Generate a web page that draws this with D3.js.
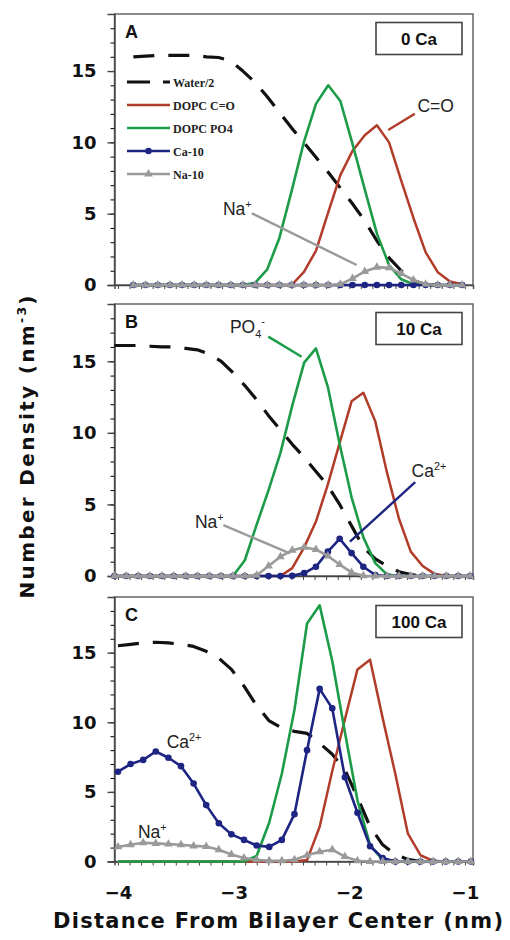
<!DOCTYPE html>
<html>
<head>
<meta charset="utf-8">
<script src="https://cdn.jsdelivr.net/npm/d3@7"></script>
<style>
  html, body { margin: 0; padding: 0; background: #fff; }
  svg { display: block; }
</style>
</head>
<body>
<svg id="chart" width="510" height="940"></svg>
<script>
// Bin centres (nm); the three runs use
// slightly different bin widths, so each panel keeps its own grid.
const xA = [-3.867, -3.762, -3.656, -3.551, -3.446, -3.341, -3.235, -3.130, -3.025, -2.920,
  -2.814, -2.709, -2.604, -2.498, -2.393, -2.288, -2.182, -2.077, -1.972, -1.866,
  -1.761, -1.656, -1.550, -1.445, -1.340, -1.235, -1.129, -1.024];
const waterA = [16.0, 16.05, 16.1, 16.1, 16.1, 16.1, 16.0, 15.95, 15.7, 15.0,
  14.2, 13.2, 12.1, 11.0, 10.0, 8.95, 7.9, 6.8, 5.7, 4.5,
  3.1, 1.9, 1.0, 0.3, 0.05, 0, null, null];
const carbonylA = [0, 0, 0, 0, 0, 0, 0, 0, 0, 0,
  0, 0, 0, 0, 0.9, 2.4, 5.1, 7.7, 9.4, 10.5,
  11.2, 10.0, 7.3, 4.7, 2.3, 0.9, 0.25, 0.05];
const phosphateA = [0, 0, 0, 0, 0, 0, 0, 0, 0, 0,
  0.15, 1.1, 3.3, 6.6, 10.0, 12.7, 14.0, 12.9, 9.9, 6.7,
  3.6, 1.4, 0.4, 0.05, 0, 0, 0, 0];
const calciumA = [0, 0, 0, 0, 0, 0, 0, 0, 0, 0,
  0, 0, 0, 0, 0, 0, 0, 0, 0, 0,
  0, 0, 0, 0, 0, 0, 0, 0];
const sodiumA = [0, 0, 0, 0, 0, 0, 0, 0, 0, 0,
  0, 0, 0, 0, 0, 0, 0, 0.05, 0.45, 0.95,
  1.25, 1.2, 0.8, 0.35, 0.05, 0, 0, 0];

const xB = [-4.030, -3.928, -3.825, -3.723, -3.620, -3.518, -3.415, -3.313, -3.210, -3.108,
  -3.005, -2.903, -2.800, -2.698, -2.595, -2.493, -2.390, -2.288, -2.185, -2.083,
  -1.980, -1.878, -1.775, -1.673, -1.570, -1.468, -1.365, -1.263, -1.160, -1.058, -0.955];
const waterB = [16.1, 16.1, 16.1, 16.05, 16.0, 16.0, 15.9, 15.8, 15.5, 15.0,
  14.2, 13.3, 12.3, 11.2, 10.2, 9.2, 8.3, 7.3, 6.3, 5.0,
  3.5, 2.0, 1.2, 0.7, 0.3, 0.1, 0, null, null, null, null];
const carbonylB = [0, 0, 0, 0, 0, 0, 0, 0, 0, 0,
  0, 0, 0, 0, 0, 0.55, 2.0, 3.8, 6.4, 9.3,
  12.2, 12.8, 10.8, 7.2, 4.0, 1.7, 0.7, 0.15, 0, 0, 0];
const phosphateB = [0, 0, 0, 0, 0, 0, 0, 0, 0, 0,
  0, 1.1, 3.6, 6.0, 8.6, 11.9, 14.9, 15.9, 13.2, 9.2,
  5.5, 2.7, 0.9, 0.1, 0, 0, 0, 0, 0, 0, 0];
const calciumB = [0, 0, 0, 0, 0, 0, 0, 0, 0, 0,
  0, 0, 0, 0, 0, 0.02, 0.2, 0.65, 1.7, 2.6,
  1.6, 0.65, 0.07, 0, 0, 0, 0, 0, 0, 0, 0];
const sodiumB = [0, 0, 0, 0, 0, 0, 0, 0, 0, 0,
  0, 0, 0.05, 0.7, 1.35, 1.8, 2.0, 1.85, 1.4, 0.8,
  0.25, 0.02, 0, 0, 0, 0, 0, 0, 0, 0, 0];

const xC = [-4.000, -3.891, -3.782, -3.673, -3.564, -3.455, -3.346, -3.237, -3.128, -3.019,
  -2.910, -2.801, -2.692, -2.583, -2.474, -2.365, -2.256, -2.147, -2.038, -1.929,
  -1.820, -1.711, -1.602, -1.493, -1.384, -1.275, -1.166, -1.057, -0.948];
const waterC = [15.5, 15.6, 15.7, 15.75, 15.7, 15.6, 15.45, 15.1, 14.6, 13.8,
  12.6, 11.2, 10.1, 9.6, 9.35, 9.2, 8.5, 7.7, 6.6, 4.6,
  2.5, 1.2, 0.5, 0.15, 0, null, null, null, null];
const carbonylC = [0, 0, 0, 0, 0, 0, 0, 0, 0, 0,
  0, 0, 0, 0, 0, 0.1, 2.5, 6.5, 10.2, 13.8,
  14.5, 10.3, 6.3, 2.0, 0.45, 0.05, 0, 0, 0];
const phosphateC = [0, 0, 0, 0, 0, 0, 0, 0, 0, 0,
  0, 0.4, 2.8, 6.3, 10.9, 17.1, 18.4, 14.4, 9.3, 4.4,
  1.2, 0.1, 0, 0, 0, 0, 0, 0, 0];
const calciumC = [6.45, 7.0, 7.3, 7.9, 7.45, 6.85, 5.6, 4.05, 2.75, 1.95,
  1.55, 1.15, 1.05, 1.55, 3.4, 8.0, 12.4, 11.0, 6.05, 3.5,
  1.1, 0.25, 0, 0, 0, 0, 0, 0, 0];
const sodiumC = [1.05, 1.2, 1.35, 1.3, 1.25, 1.2, 1.12, 1.08, 0.85, 0.5,
  0.25, 0.12, 0.05, 0.05, 0.12, 0.45, 0.7, 0.85, 0.35, 0.05,
  0, 0, 0, 0, 0, 0, 0, 0, 0];

const xTicks = [-4, -3, -2, -1];
const yTicks = [0, 5, 10, 15];
const legendLabels = ['Water/2', 'DOPC C=O', 'DOPC PO4', 'Ca-10', 'Na-10'];
const boxLabels = ['0 Ca', '10 Ca', '100 Ca'];
const panelLetters = ['A', 'B', 'C'];

const colors = {
  water: '#111111',
  carbonyl: '#b23c2a',
  phosphate: '#1c9c48',
  calcium: '#1d2482',
  sodium: '#9a9a9a',
};

const svg = d3.select('#chart');
const x = d3.scaleLinear().domain([-4.03, -0.93]).range([114.5, 473]);
const [plotLeft, plotRight] = x.range();

// Callout labels are placed in data units so they move with the scales.
const panels = [
  {
    top: 14, bottom: 285, xs: xA,
    series: [waterA, carbonylA, phosphateA, calciumA, sodiumA],
    notes: [
      { parts: [['C=O']], at: [-1.41, 12.1], color: colors.carbonyl, from: [-1.433, 12.0], to: [-1.663, 10.87] },
      { parts: [['Na'], ['+', 'sup']], at: [-3.092, 4.9], color: colors.sodium, from: [-2.844, 5.03], to: [-1.936, 1.40] },
    ],
  },
  {
    top: 304, bottom: 576, xs: xB,
    series: [waterB, carbonylB, phosphateB, calciumB, sodiumB],
    notes: [
      { parts: [['PO'], ['4', 'sub'], ['-', 'sup']], at: [-3.032, 17.0], color: colors.phosphate, from: [-2.70, 16.72], to: [-2.412, 15.32] },
      { parts: [['Ca'], ['2+', 'sup']], at: [-1.461, 6.9], color: colors.calcium, from: [-1.43, 6.55], to: [-1.994, 2.40] },
      { parts: [['Na'], ['+', 'sup']], at: [-3.334, 3.35], color: colors.sodium, from: [-3.089, 3.56], to: [-2.513, 1.58] },
    ],
  },
  {
    top: 597, bottom: 861.5, xs: xC,
    series: [waterC, carbonylC, phosphateC, calciumC, sodiumC],
    notes: [
      { parts: [['Ca'], ['2+', 'sup']], at: [-3.579, 8.15] },
      { parts: [['Na'], ['+', 'sup']], at: [-3.827, 1.69] },
    ],
  },
];

const seriesStyle = [
  { color: colors.water, width: 3.2, dash: '21,14' },
  { color: colors.carbonyl, width: 2.5 },
  { color: colors.phosphate, width: 2.6 },
  { color: colors.calcium, width: 2.6, marker: 'circle' },
  { color: colors.sodium, width: 2.6, marker: 'triangle' },
];

function richText(sel, parts, size) {
  let shift = 0;
  parts.forEach(([txt, kind]) => {
    const target = kind === 'sup' ? -0.42 * size : kind === 'sub' ? 0.28 * size : 0;
    sel.append('tspan')
      .attr('dy', target - shift)
      .attr('font-size', kind ? size * 0.62 : size)
      .text(txt);
    shift = target;
  });
}

function drawMarker(sel, kind, color) {
  if (kind === 'circle') {
    sel.append('circle').attr('r', 3.3).attr('fill', color);
  } else {
    sel.append('path').attr('d', d3.symbol(d3.symbolTriangle, 32)()).attr('fill', color);
  }
}

panels.forEach((p, i) => {
  const y = d3.scaleLinear().domain([0, 19]).range([p.bottom, p.top]);
  const g = svg.append('g');

  g.append('rect')
    .attr('x', plotLeft).attr('y', p.top)
    .attr('width', plotRight - plotLeft).attr('height', p.bottom - p.top)
    .attr('fill', 'none').attr('stroke', '#5a5a5a').attr('stroke-width', 1.4);

  // y axis: unit minor ticks, labelled majors every 5
  g.append('g').attr('transform', `translate(${plotLeft},0)`)
    .call(d3.axisLeft(y).tickValues(d3.range(0, 19)).tickSize(4).tickFormat(''))
    .call((a) => a.select('.domain').remove());
  const yAxis = g.append('g').attr('transform', `translate(${plotLeft},0)`)
    .call(d3.axisLeft(y).tickValues(yTicks).tickSize(7).tickPadding(11).tickFormat(d3.format('d')));
  yAxis.select('.domain').attr('stroke', '#444').attr('stroke-width', 1.4);
  yAxis.selectAll('line').attr('stroke', '#444').attr('stroke-width', 1.4);
  yAxis.selectAll('text')
    .attr('font-family', '"DejaVu Sans", Verdana, sans-serif')
    .attr('font-weight', 'bold').attr('font-size', 18).attr('fill', '#111');

  // x axis: 0.1 nm ticks, labels on the bottom panel only
  const xAxis = g.append('g').attr('transform', `translate(0,${p.bottom})`)
    .call(d3.axisBottom(x).tickValues(d3.range(31).map((k) => -4 + k / 10)).tickSize(4).tickFormat(''));
  xAxis.select('.domain').attr('stroke', '#444').attr('stroke-width', 1.4);
  xAxis.selectAll('line').attr('stroke', '#444');
  if (i === panels.length - 1) {
    const lab = g.append('g').attr('transform', `translate(0,${p.bottom})`)
      .call(d3.axisBottom(x).tickValues(xTicks).tickSize(0).tickPadding(25).tickFormat(d3.format('d')));
    lab.select('.domain').remove();
    lab.selectAll('text')
      .attr('font-family', '"DejaVu Sans", Verdana, sans-serif')
      .attr('font-weight', 'bold').attr('font-size', 18).attr('fill', '#111');
  }

  // series, in the workbook's order so the ions sit on top
  const line = d3.line()
    .defined((d) => d.y != null)
    .x((d) => x(d.x))
    .y((d) => y(d.y));

  p.series.forEach((vals, s) => {
    const style = seriesStyle[s];
    const rows = p.xs.map((xv, k) => ({ x: xv, y: vals[k] }));
    g.append('path')
      .datum(rows)
      .attr('d', line)
      .attr('fill', 'none')
      .attr('stroke', style.color)
      .attr('stroke-width', style.width)
      .attr('stroke-dasharray', style.dash || null)
      .attr('stroke-linejoin', 'round');
    if (style.marker) {
      g.append('g').selectAll('g')
        .data(rows.filter((d) => d.y != null))
        .join('g')
        .attr('transform', (d) => `translate(${x(d.x)},${y(d.y)})`)
        .each(function () { drawMarker(d3.select(this), style.marker, style.color); });
    }
  });

  // callouts
  p.notes.forEach((n) => {
    if (n.from) {
      g.append('line')
        .attr('x1', x(n.from[0])).attr('y1', y(n.from[1]))
        .attr('x2', x(n.to[0])).attr('y2', y(n.to[1]))
        .attr('stroke', n.color).attr('stroke-width', 2.4);
    }
    const t = g.append('text')
      .attr('x', x(n.at[0])).attr('y', y(n.at[1]))
      .attr('font-family', '"Liberation Sans", Arial, sans-serif')
      .attr('fill', '#222');
    richText(t, n.parts, 17.5);
  });

  g.append('text')
    .attr('x', 125).attr('y', p.top + 23.5)
    .attr('font-family', '"Liberation Sans", Arial, sans-serif')
    .attr('font-weight', 'bold').attr('font-size', 18).attr('fill', '#111')
    .text(panelLetters[i]);

  g.append('rect')
    .attr('x', 376).attr('y', p.top + 8.5)
    .attr('width', 86).attr('height', 32)
    .attr('fill', '#fff').attr('stroke', '#444').attr('stroke-width', 1.6);
  g.append('text')
    .attr('x', 419).attr('y', p.top + 30.5)
    .attr('text-anchor', 'middle')
    .attr('font-family', '"Liberation Sans", Arial, sans-serif')
    .attr('font-weight', 'bold').attr('font-size', 17).attr('fill', '#111')
    .text(boxLabels[i]);

  if (i === 0) {
    const leg = g.append('g');
    legendLabels.forEach((label, s) => {
      const style = seriesStyle[s];
      const ly = 82 + s * 23;
      leg.append('line')
        .attr('x1', 127).attr('x2', 170).attr('y1', ly).attr('y2', ly)
        .attr('stroke', style.color).attr('stroke-width', style.width)
        .attr('stroke-dasharray', style.dash ? '23,13' : null);
      if (style.marker) {
        drawMarker(leg.append('g').attr('transform', `translate(148.5,${ly})`), style.marker, style.color);
      }
      leg.append('text')
        .attr('x', 173).attr('y', ly + 4.5)
        .attr('font-family', '"Liberation Serif", "Times New Roman", serif')
        .attr('font-weight', 'bold').attr('font-size', 12).attr('fill', '#222')
        .text(label);
    });
  }
});

svg.append('text')
  .attr('x', 278).attr('y', 928)
  .attr('text-anchor', 'middle')
  .attr('font-family', '"DejaVu Sans", Verdana, sans-serif')
  .attr('font-weight', 'bold').attr('font-size', 21).attr('fill', '#111')
  .attr('textLength', 450).attr('lengthAdjust', 'spacing')
  .text('Distance From Bilayer Center (nm)');

const yTitle = svg.append('text')
  .attr('transform', 'translate(34,447) rotate(-90)')
  .attr('text-anchor', 'middle')
  .attr('font-family', '"DejaVu Sans", Verdana, sans-serif')
  .attr('font-weight', 'bold').attr('fill', '#111')
  .attr('textLength', 303).attr('lengthAdjust', 'spacing');
richText(yTitle, [['Number Density (nm'], ['-3', 'sup'], [')']], 20);
</script>
</body>
</html>
